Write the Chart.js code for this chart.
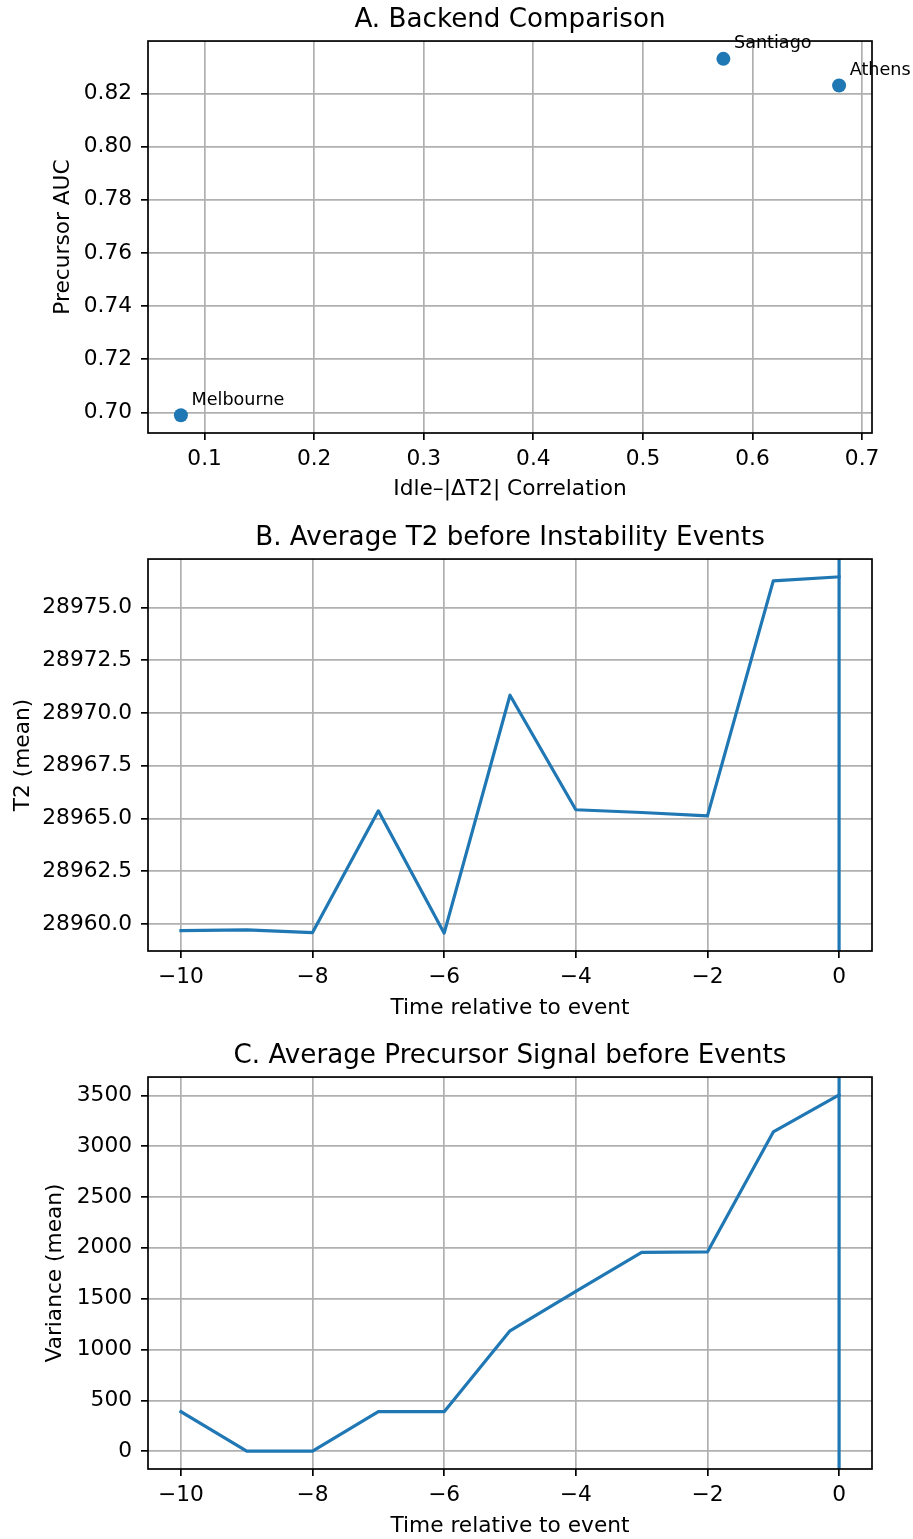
<!DOCTYPE html>
<html><head><meta charset="utf-8">
<script src="https://cdn.jsdelivr.net/npm/chart.js@4.4.0/dist/chart.umd.min.js"></script>
<style>
html,body{margin:0;padding:0;background:#fff;width:913px;height:1539px;overflow:hidden}
canvas{position:absolute;left:0}
</style></head><body>
<canvas id="cA" width="913" height="518" style="top:0px"></canvas>
<canvas id="cB" width="913" height="518" style="top:518px"></canvas>
<canvas id="cC" width="913" height="503" style="top:1036px"></canvas>
<script>
// ---- data ----
const backends = ['Melbourne', 'Santiago', 'Athens'];
const idleCorr = [0.0784, 0.5734, 0.679];
const precursorAUC = [0.699, 0.833, 0.823];

const relTime = [-10, -9, -8, -7, -6, -5, -4, -3, -2, -1, 0];
const t2Mean = [28959.68, 28959.72, 28959.59, 28965.36, 28959.56, 28970.84, 28965.41, 28965.28, 28965.12, 28976.26, 28976.45];
const varianceMean = [389, 0, 0, 389, 389, 1184, 1572, 1955, 1960, 3140, 3505];
const eventTime = 0;

const ticksAX = [0.1, 0.2, 0.3, 0.4, 0.5, 0.6, 0.7];
const ticksAY = [0.70, 0.72, 0.74, 0.76, 0.78, 0.80, 0.82];
const ticksTime = [-10, -8, -6, -4, -2, 0];
const ticksBY = [28960, 28962.5, 28965, 28967.5, 28970, 28972.5, 28975];
const ticksCY = [0, 500, 1000, 1500, 2000, 2500, 3000, 3500];

// ---- style ----
const BLUE = '#1f77b4';
const FS = 21.7;
const LW = 1.7;
Chart.defaults.font.family = '"DejaVu Sans", sans-serif';
Chart.defaults.color = '#000';

function lims(arr) {
  const lo = Math.min(...arr), hi = Math.max(...arr), m = (hi - lo) * 0.05;
  return [lo - m, hi + m];
}
const minus = v => (v < 0 ? '\u2212' + String(Math.abs(v)) : String(v));

function makeScale(o) {
  return {
    type: 'linear', bounds: 'data', min: o.lim[0], max: o.lim[1],
    afterBuildTicks: s => { s.ticks = o.ticks.map(v => ({ value: v })); },
    afterFit: s => { if (o.isX) s.height = o.fitH; else s.width = 148; },
    grid: { color: '#b0b0b0', lineWidth: LW, drawTicks: true, tickLength: 7, tickColor: '#000', tickWidth: LW, drawOnChartArea: true },
    border: { display: false },
    ticks: { autoSkip: false, maxRotation: 0, minRotation: 0, padding: o.isX ? 6.8 : 9, color: '#000',
      font: { size: FS }, callback: v => o.fmt(v) },
    title: { display: true, text: o.title, color: '#000', font: { size: FS, lineHeight: 1.2 },
      padding: o.isX ? { top: 0, bottom: o.tp } : { top: o.tp, bottom: 0 } }
  };
}

const frame = {
  id: 'frame',
  afterDatasetsDraw(chart) {
    const { left, top, right, bottom } = chart.chartArea;
    const c = chart.ctx;
    c.save(); c.strokeStyle = '#000'; c.lineWidth = LW;
    c.strokeRect(left, top, right - left, bottom - top);
    c.restore();
  }
};
const pointLabels = {
  id: 'pointLabels',
  afterDatasetsDraw(chart) {
    const meta = chart.getDatasetMeta(0);
    const c = chart.ctx;
    c.save(); c.font = '17.6px "DejaVu Sans"'; c.fillStyle = '#000';
    c.textBaseline = 'alphabetic'; c.textAlign = 'left';
    meta.data.forEach((pt, i) => c.fillText(backends[i], pt.x + 10.6, pt.y - 10.6));
    c.restore();
  }
};

function baseOpts(titleText, xs, ys) {
  return {
    responsive: false, animation: false, devicePixelRatio: 1,
    layout: { padding: { left: 0, right: 41, top: 0, bottom: 0 } },
    plugins: {
      legend: { display: false }, tooltip: { enabled: false },
      title: { display: true, text: titleText, fullSize: false, color: '#000',
        font: { size: 26.2, weight: 'normal', lineHeight: 1.2 }, padding: { top: 4.4, bottom: 5.2 } }
    },
    scales: { x: xs, y: ys }
  };
}

// ---- A ----
const limAX = lims(idleCorr), limAY = lims(precursorAUC);
new Chart(document.getElementById('cA'), {
  type: 'scatter',
  data: { datasets: [{ data: idleCorr.map((x, i) => ({ x, y: precursorAUC[i] })),
    backgroundColor: BLUE, borderWidth: 0, pointRadius: 7, pointHoverRadius: 7 }] },
  options: baseOpts('A. Backend Comparison',
    makeScale({ isX: true, lim: limAX, ticks: ticksAX, fmt: v => v.toFixed(1), title: 'Idle\u2013|\u0394T2| Correlation', tp: 15.5, fitH: 518 - 433 }),
    makeScale({ isX: false, lim: limAY, ticks: ticksAY, fmt: v => v.toFixed(2), title: 'Precursor AUC', tp: 50.5 })),
  plugins: [frame, pointLabels]
});

// ---- B & C ----
function lineChart(id, titleText, vals, yTicks, fmtY, yTitle, yTp, H, xTp) {
  const limX = lims(relTime), limY = lims(vals);
  new Chart(document.getElementById(id), {
    type: 'line',
    data: { datasets: [
      { data: relTime.map((x, i) => ({ x, y: vals[i] })), borderColor: BLUE, borderWidth: 3.2,
        pointRadius: 0, tension: 0, fill: false, borderJoinStyle: 'round', borderCapStyle: 'square', clip: 0 },
      { data: [{ x: eventTime, y: limY[0] }, { x: eventTime, y: limY[1] }], borderColor: BLUE, borderWidth: 3.2,
        pointRadius: 0, tension: 0, fill: false, clip: 0 }
    ] },
    options: baseOpts(titleText,
      makeScale({ isX: true, lim: limX, ticks: ticksTime, fmt: minus, title: 'Time relative to event', tp: xTp, fitH: H - 433 }),
      makeScale({ isX: false, lim: limY, ticks: yTicks, fmt: fmtY, title: yTitle, tp: yTp })),
    plugins: [frame]
  });
}
lineChart('cB', 'B. Average T2 before Instability Events', t2Mean, ticksBY, v => v.toFixed(1), 'T2 (mean)', 10.5, 518, 15);
lineChart('cC', 'C. Average Precursor Signal before Events', varianceMean, ticksCY, v => String(v), 'Variance (mean)', 42, 503, 0);
</script>
</body></html>
